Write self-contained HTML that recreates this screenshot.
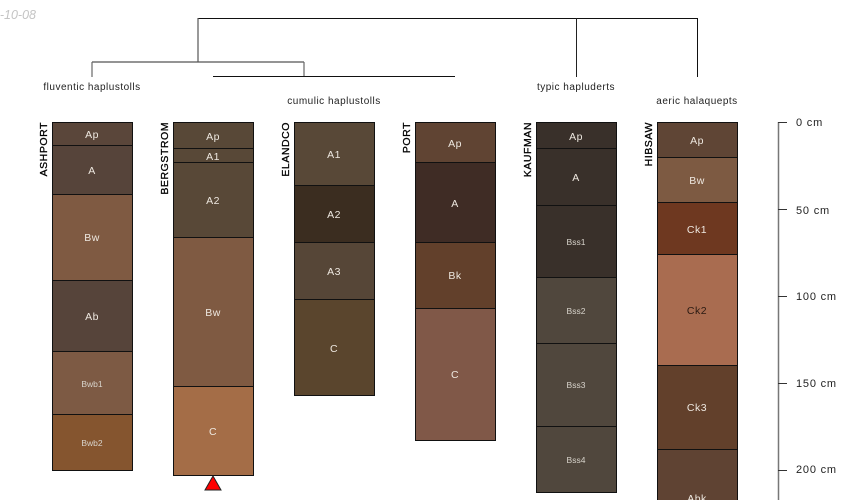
<!DOCTYPE html>
<html><head><meta charset="utf-8"><style>
html,body{margin:0;padding:0;background:#fff;width:850px;height:500px;overflow:hidden}
svg{display:block}
text{font-family:"Liberation Sans",sans-serif;font-size:10px}
.h{text-anchor:middle;fill:#eee8e0;font-size:10.5px;letter-spacing:.5px}
.s{font-size:8.5px;fill:#d8d4cc;letter-spacing:0}
.n{text-anchor:middle;fill:#222;font-size:10px;letter-spacing:.5px}
.id{text-anchor:end;font-size:10.5px;fill:#000;stroke:#000;stroke-width:.3;letter-spacing:.55px}
.sc{font-size:11px;letter-spacing:.8px;fill:#222}
rect{stroke:#111;stroke-width:1}
line{stroke:#111;stroke-width:1}
</style></head><body>
<svg width="850" height="500" viewBox="0 0 850 500" xmlns="http://www.w3.org/2000/svg">
<text x="36" y="19" text-anchor="end" style="font-style:italic;font-size:12.5px;fill:#c4c4c4">2012-10-08</text>

<g fill="none">
<line x1="198" y1="18.5" x2="697" y2="18.5"/>
<line x1="198" y1="18" x2="198" y2="62" style="stroke:#555;stroke-width:1.2"/>
<line x1="92" y1="62" x2="304" y2="62" style="stroke:#555;stroke-width:1.2"/>
<line x1="92" y1="62" x2="92" y2="77" style="stroke:#666;stroke-width:1.2"/>
<line x1="304" y1="62" x2="304" y2="77" style="stroke:#666;stroke-width:1.2"/>
<line x1="213" y1="76.5" x2="455" y2="76.5"/>
<line x1="576.5" y1="18" x2="576.5" y2="77" style="stroke:#222"/>
<line x1="697.5" y1="18" x2="697.5" y2="77"/>
</g>

<text class="n" x="92" y="90">fluventic haplustolls</text>
<text class="n" x="334" y="104">cumulic haplustolls</text>
<text class="n" x="576" y="90">typic hapluderts</text>
<text class="n" x="697" y="104">aeric halaquepts</text>

<!-- ASHPORT -->
<g>
<rect x="52.5" y="122.5" width="80" height="23" fill="#5a463a"/>
<rect x="52.5" y="145.5" width="80" height="49" fill="#56443a"/>
<rect x="52.5" y="194.5" width="80" height="86" fill="#7f5a42"/>
<rect x="52.5" y="280.5" width="80" height="71" fill="#56443a"/>
<rect x="52.5" y="351.5" width="80" height="63" fill="#7d5a44"/>
<rect x="52.5" y="414.5" width="80" height="56" fill="#85552f"/>
</g>
<text class="id" transform="translate(47,122) rotate(-90)">ASHPORT</text>
<text class="h" x="92" y="138">Ap</text>
<text class="h" x="92" y="174">A</text>
<text class="h" x="92" y="241">Bw</text>
<text class="h" x="92" y="320">Ab</text>
<text class="h s" x="92" y="387">Bwb1</text>
<text class="h s" x="92" y="446">Bwb2</text>

<!-- BERGSTROM -->
<g>
<rect x="173.5" y="122.5" width="80" height="26" fill="#584837"/>
<rect x="173.5" y="148.5" width="80" height="14" fill="#584837"/>
<rect x="173.5" y="162.5" width="80" height="75" fill="#584837"/>
<rect x="173.5" y="237.5" width="80" height="149" fill="#7f5a42"/>
<rect x="173.5" y="386.5" width="80" height="89" fill="#a46d47"/>
</g>
<text class="id" transform="translate(168,122) rotate(-90)">BERGSTROM</text>
<text class="h" x="213" y="140">Ap</text>
<text class="h" x="213" y="160">A1</text>
<text class="h" x="213" y="204">A2</text>
<text class="h" x="213" y="316">Bw</text>
<text class="h" x="213" y="435">C</text>
<polygon points="213,476 221,490 205,490" fill="#ff0000" stroke="#222" stroke-width="1"/>

<!-- ELANDCO -->
<g>
<rect x="294.5" y="122.5" width="80" height="63" fill="#584837"/>
<rect x="294.5" y="185.5" width="80" height="57" fill="#3b2d20"/>
<rect x="294.5" y="242.5" width="80" height="57" fill="#564637"/>
<rect x="294.5" y="299.5" width="80" height="96" fill="#5a452d"/>
</g>
<text class="id" transform="translate(289,122) rotate(-90)">ELANDCO</text>
<text class="h" x="334" y="158">A1</text>
<text class="h" x="334" y="218">A2</text>
<text class="h" x="334" y="275">A3</text>
<text class="h" x="334" y="352">C</text>

<!-- PORT -->
<g>
<rect x="415.5" y="122.5" width="80" height="40" fill="#604433"/>
<rect x="415.5" y="162.5" width="80" height="80" fill="#3f2c25"/>
<rect x="415.5" y="242.5" width="80" height="66" fill="#62402b"/>
<rect x="415.5" y="308.5" width="80" height="132" fill="#805848"/>
</g>
<text class="id" transform="translate(410,122) rotate(-90)">PORT</text>
<text class="h" x="455" y="147">Ap</text>
<text class="h" x="455" y="207">A</text>
<text class="h" x="455" y="279">Bk</text>
<text class="h" x="455" y="378">C</text>

<!-- KAUFMAN -->
<g>
<rect x="536.5" y="122.5" width="80" height="26" fill="#39302a"/>
<rect x="536.5" y="148.5" width="80" height="57" fill="#39302a"/>
<rect x="536.5" y="205.5" width="80" height="72" fill="#39302a"/>
<rect x="536.5" y="277.5" width="80" height="66" fill="#50473d"/>
<rect x="536.5" y="343.5" width="80" height="83" fill="#50473d"/>
<rect x="536.5" y="426.5" width="80" height="66" fill="#50473d"/>
</g>
<text class="id" transform="translate(531,122) rotate(-90)">KAUFMAN</text>
<text class="h" x="576" y="140">Ap</text>
<text class="h" x="576" y="181">A</text>
<text class="h s" x="576" y="245">Bss1</text>
<text class="h s" x="576" y="314">Bss2</text>
<text class="h s" x="576" y="388">Bss3</text>
<text class="h s" x="576" y="463">Bss4</text>

<!-- HIBSAW -->
<g>
<rect x="657.5" y="122.5" width="80" height="35" fill="#5f4535"/>
<rect x="657.5" y="157.5" width="80" height="45" fill="#7d5a42"/>
<rect x="657.5" y="202.5" width="80" height="52" fill="#6e3820"/>
<rect x="657.5" y="254.5" width="80" height="111" fill="#a96c50"/>
<rect x="657.5" y="365.5" width="80" height="84" fill="#62402b"/>
<rect x="657.5" y="449.5" width="80" height="60" fill="#5f4333"/>
</g>
<text class="id" transform="translate(652,122) rotate(-90)">HIBSAW</text>
<text class="h" x="697" y="144">Ap</text>
<text class="h" x="697" y="184">Bw</text>
<text class="h" x="697" y="233">Ck1</text>
<text class="h" x="697" y="314" style="fill:#2a1a12">Ck2</text>
<text class="h" x="697" y="411">Ck3</text>
<text class="h" x="697" y="502">Abk</text>

<!-- scale -->
<g>
<line x1="778.5" y1="122" x2="778.5" y2="500" style="stroke:#777;stroke-width:1.5"/>
<line x1="778" y1="122.5" x2="787" y2="122.5" style="stroke:#333"/>
<line x1="778" y1="209.5" x2="787" y2="209.5" style="stroke:#333"/>
<line x1="778" y1="296.5" x2="787" y2="296.5" style="stroke:#333"/>
<line x1="778" y1="383.5" x2="787" y2="383.5" style="stroke:#333"/>
<line x1="778" y1="470.5" x2="787" y2="470.5" style="stroke:#333"/>
</g>
<text class="sc" x="796" y="126">0 cm</text>
<text class="sc" x="796" y="214">50 cm</text>
<text class="sc" x="796" y="300">100 cm</text>
<text class="sc" x="796" y="387">150 cm</text>
<text class="sc" x="796" y="473">200 cm</text>
</svg>
</body></html>
